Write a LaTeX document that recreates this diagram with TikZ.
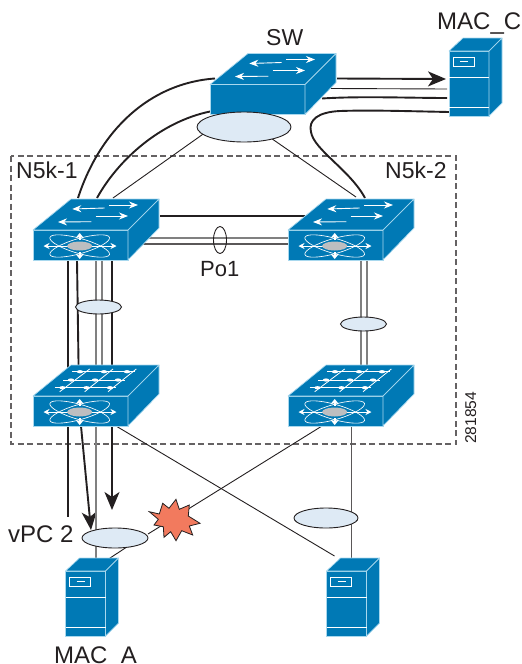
\documentclass[tikz,border=0pt]{standalone}
\usepackage{fontspec}
\setmainfont{Liberation Sans}
\usetikzlibrary{arrows.meta,shapes.geometric}
\definecolor{cblue}{HTML}{0079B5}
\definecolor{cedge}{HTML}{A8D8EE}
\definecolor{cfill}{HTML}{DEEAF5}
\definecolor{cstar}{HTML}{F27A5E}
\definecolor{cgrey}{HTML}{808080}
\definecolor{cink}{HTML}{231F20}
\definecolor{chub}{HTML}{BDBEC0}
\pgfdeclarelayer{back}
\pgfsetlayers{back,main}
\tikzset{
  front/.style={rectangle,inner sep=0pt,outer sep=0pt,minimum width=95pt,minimum height=30pt,fill=cblue,draw=cedge,line width=.7pt},
  srvfront/.style={rectangle,inner sep=0pt,outer sep=0pt,minimum width=40pt,minimum height=65pt,fill=cblue,draw=cedge,line width=.7pt},
  face/.style={fill=cblue,draw=cedge,line width=.7pt,line join=round},
  wline/.style={draw=white,line width=.8pt},
  orbit/.style={draw=white,line width=.65pt},
  warrow/.style={draw=white,line width=.9pt,-{Stealth[length=9pt,width=7pt,fill=white]}},
  harrow/.style={draw=white,line width=.9pt,-{Stealth[length=6pt,width=6pt,fill=white]}},
  warrowb/.style={draw=white,line width=2pt,-{Stealth[length=5pt,width=8pt,fill=white]}},
  heavy/.style={draw=cink,line width=1.9pt},
  medl/.style={draw=cink,line width=1.5pt},
  thinl/.style={draw=cink,line width=.9pt},
  greyl/.style={draw=cgrey,line width=1.4pt},
  tip/.style={-{Stealth[length=18pt,width=15pt,inset=5pt]}},
  lag/.style={ellipse,inner sep=0pt,outer sep=0pt,fill=cfill,draw=cink,line width=.9pt},
  lab/.style={font=\fontsize{23}{25}\selectfont,text=cink,inner sep=0pt,anchor=base west},
  labbig/.style={lab,font=\fontsize{24}{26}\selectfont},
  border/.style={draw=cink!70,line width=1.1pt,dash pattern=on 6pt off 3.5pt},
  hub/.pic={
    \draw[orbit] (46.7,16) ellipse [x radius=31,y radius=7.5,rotate=-16];
    \draw[orbit] (46.7,16) ellipse [x radius=31,y radius=7.5,rotate=16];
    \draw[harrow] (35,16) -- (10.5,16);
    \draw[harrow] (58,16) -- (83.5,16);
    \draw[warrowb] (46.7,10) -- (46.7,3);
    \draw[warrowb] (46.7,22) -- (46.7,29);
    \fill[chub] (46.7,16) ellipse [x radius=12.5,y radius=4.5];
  },
  boxsides/.pic={
    \path[face] (0,0) -- (38,-31) -- (126,-31) -- (95,0) -- cycle;
    \path[face] (95,0) -- (126,-31) -- (126,-2) -- (95,30) -- cycle;
  },
  lanbox/.pic={
    \path pic {boxsides};
    \draw[warrow] (71.7,-22) -- (39.3,-21);
    \draw[warrow] (76,-25) -- (105,-25);
    \draw[warrow] (58.3,-8.3) -- (25,-8);
    \draw[warrow] (62.7,-14) -- (95,-14);
  },
  gridbox/.pic={
    \path pic {boxsides};
    \draw[wline] (39.3,-24.3) -- (101.7,-24.3);
    \draw[wline] (30,-16) -- (91.7,-16);
    \draw[wline] (21.7,-8.3) -- (83.3,-8.3);
    \draw[wline] (26.7,-4.3) -- (56.7,-27);
    \draw[wline] (51.7,-4.3) -- (80,-27);
    \draw[wline] (75,-4.3) -- (103.3,-27);
    \foreach \p in {(47,-24.3),(71,-24.3),(94,-24.3),(38,-16),(62,-16),(85,-16),(29.5,-8.3),(53.5,-8.3),(77,-8.3)}
      \fill[white] \p ellipse [x radius=3.2,y radius=1.6];
  },
  server/.pic={
    \path[face] (0,0) -- (14,-13) -- (53,-13) -- (40,0) -- cycle;
    \path[face] (40,0) -- (53,-13) -- (53,52) -- (40,65) -- cycle;
    \draw[wline] (0,26) -- (40,26);
    \draw[wline] (0,56) -- (40,56);
    \draw[wline] (4,6) rectangle (25,15);
    \draw[wline] (11,10) -- (19,10);
  }
}
\begin{document}
\begin{tikzpicture}[x=1pt,y=-1pt]
\useasboundingbox (0,0) rectangle (522,664);

% devices
\node[front] (sw) at (257.5,99.5) {};
\path (sw.north west) pic {lanbox};
\node[front] (n1) at (80.5,245) {};
\path (n1.north west) pic {lanbox};
\path (n1.north west) pic {hub};
\node[front] (n2) at (335.5,245) {};
\path (n2.north west) pic {lanbox};
\path (n2.north west) pic {hub};
\node[front] (f1) at (80.5,411) {};
\path (f1.north west) pic {gridbox};
\path (f1.north west) pic {hub};
\node[front] (f2) at (335.5,411) {};
\path (f2.north west) pic {gridbox};
\path (f2.north west) pic {hub};
\node[srvfront] (macc) at (469,83.5) {};
\path (macc.north west) pic {server};
\node[srvfront] (maca) at (85.5,603.5) {};
\path (maca.north west) pic {server};
\node[srvfront] (srvb) at (346.5,603.5) {};
\path (srvb.north west) pic {server};

% bundles
\node[lag,minimum width=94pt,minimum height=30pt] (lagsw) at (244,127) {};
\node[lag,minimum width=46pt,minimum height=14pt] (lagl) at (98.5,307) {};
\node[lag,minimum width=46pt,minimum height=14pt] (lagr) at (363.5,324) {};
\node[lag,minimum width=66pt,minimum height=20pt] (lagv) at (115,538) {};
\node[lag,minimum width=64pt,minimum height=20pt] (lagb) at (326,518) {};
\node[ellipse,draw=cink,line width=.9pt,inner sep=0pt,minimum width=13pt,minimum height=27pt] (po) at (220,240) {};

% failure mark
\draw[cink,fill=cstar,line width=.8pt,line join=miter]
  (149.3,511.7) -- (159.3,514) -- (162.7,503.3) -- (169,508.3) -- (176,499.3) -- (179.3,509.3)
  -- (189.3,505) -- (188.3,516) -- (200,523.3) -- (189.3,526) -- (192.7,535) -- (181.7,530.7)
  -- (176,540.7) -- (170.7,531.7) -- (164,537.3) -- (163.3,526.7) -- (154,525) -- (158.3,519.3) -- cycle;

% labels
\node[lab] (tsw) at (266,45) {SW};
\node[labbig] (tmacc) at (437,29) {MAC\_C};
\node[lab] (tn1) at (16,178) {N5k-1};
\node[lab] (tn2) at (385,178) {N5k-2};
\node[lab,font=\fontsize{22}{24}\selectfont] (tpo) at (200,276) {Po1};
\node[labbig] (tvpc) at (8,542) {vPC 2};
\node[labbig] (tmaca) at (54,663) {MAC\_A};
\node[font=\fontsize{15.6}{17}\selectfont,text=cink,inner sep=0pt,rotate=90,anchor=base west] (tnum) at (476,444) {281854};

\begin{pgfonlayer}{back}
  \path[border] (11,156) rectangle (456,444);
  % SW to MAC_C
  \draw[heavy,tip] ([xshift=32pt,yshift=6pt]sw.north east) -- ([xshift=-3pt,yshift=-28pt]macc.north west);
  \draw[thinl] ([xshift=26pt,yshift=-4pt]sw.north east) -- ([xshift=-2pt,yshift=-38pt]macc.north west);
  \draw[heavy] ([xshift=17pt,yshift=-14pt]sw.north east) .. controls (360,96) and (410,98) .. ([xshift=-2pt,yshift=-47pt]macc.north west);
  \draw[heavy] ([yshift=-61pt]macc.north west) .. controls (400,111) and (370,110) .. (340,111)
     .. controls (318,112) and (308,120) .. (311,132)
     .. controls (314,150) and (350,170) .. ([xshift=77pt,yshift=32pt]n2.north west);
  % SW to N5k
  \draw[heavy] ([xshift=45pt,yshift=32pt]n1.north west) .. controls (100,130) and (150,83) .. ([xshift=5pt,yshift=6pt]sw.north west);
  \draw[heavy] ([xshift=64pt,yshift=32pt]n1.north west) .. controls (118,160) and (160,122) .. ([yshift=-27pt]sw.north west);
  \draw[thinl] ([xshift=80pt,yshift=32pt]n1.north west) -- (lagsw.190);
  \draw[thinl] (lagsw.-23) -- ([xshift=68pt,yshift=33pt]n2.north west);
  % peer link
  \draw[heavy] ([xshift=32pt,yshift=14pt]n1.north east) -- ([xshift=17pt,yshift=14pt]n2.north west);
  \draw[greyl] ([yshift=7pt]n1.east) -- ([yshift=7pt]n2.west);
  \draw[greyl,draw=cink!75] ([yshift=1pt]n1.east) -- ([yshift=1pt]n2.west);
  % N5k to fabric
  \draw[heavy] ([xshift=35pt]n1.south west) -- ([xshift=35pt]f1.north west);
  \draw[heavy] ([xshift=44pt]n1.south west) -- ([xshift=46pt]f1.north west);
  \draw[greyl] ([xshift=63pt]n1.south west) -- ([xshift=63pt]f1.north west);
  \draw[greyl] ([xshift=69pt]n1.south west) -- ([xshift=69pt]f1.north west);
  \draw[medl] ([xshift=79pt]n1.south west) -- ([xshift=79pt]f1.north west);
  \draw[greyl] ([xshift=73pt]n2.south west) -- ([xshift=73pt]f2.north west);
  \draw[greyl] ([xshift=79pt]n2.south west) -- ([xshift=79pt]f2.north west);
  % fabric to hosts
  \coordinate (e1) at (68,517);
  \coordinate (e2) at (91,530);
  \coordinate (e3) at (112,510);
  \draw[heavy] ([xshift=35pt]f1.south west) -- (e1);
  \draw[heavy,tip] ([xshift=48pt]f1.south west) -- (e2);
  \draw[greyl] ([xshift=63pt]f1.south west) -- ([xshift=30.5pt]maca.north west);
  \draw[heavy,tip] ([xshift=79pt]f1.south west) -- (e3);
  \draw[thinl] ([xshift=83pt]f1.south west) -- ([xshift=8pt,yshift=15pt]srvb.north west);
  \draw[thinl] ([xshift=34pt]f2.south west) -- ([yshift=4pt]lagv.east);
  \draw[thinl,draw=cink!75] ([xshift=63pt]f2.south west) -- ([xshift=24.5pt]srvb.north west);
  \draw[thinl] (lagv.-40) -- ([xshift=40pt,yshift=10pt]maca.north west);
\end{pgfonlayer}
\end{tikzpicture}
\end{document}
